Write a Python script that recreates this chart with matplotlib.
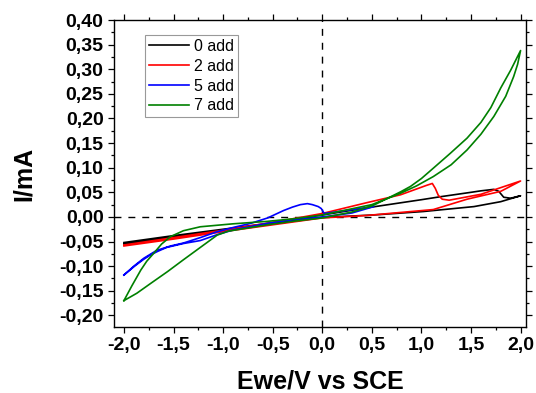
import numpy as np
import matplotlib
matplotlib.use("Agg")
import matplotlib.pyplot as plt
from matplotlib.ticker import MultipleLocator, FuncFormatter

plt.rcParams['font.family'] = ['Liberation Sans', 'DejaVu Sans']

# cyclic voltammograms (V vs SCE, mA)
black_v = [-2.0, -1.5, -1.0, -0.5, 0.0, 0.5, 1.0, 1.19, 1.5, 1.6, 1.73, 1.78, 1.83, 1.9, 2.0,
           1.8, 1.53, 1.02, 0.52, 0.0, -0.5, -1.0, -1.5, -2.0]
black_i = [-0.052, -0.038, -0.025, -0.012, 0.004, 0.020, 0.035, 0.041, 0.050, 0.053, 0.056, 0.052, 0.040, 0.038, 0.043,
           0.031, 0.021, 0.011, 0.004, -0.001, -0.014, -0.027, -0.041, -0.055]

red_v = [-2.0, -1.5, -1.0, -0.5, 0.0, 0.45, 0.79, 1.05, 1.11, 1.14, 1.17, 1.21, 1.28, 1.6, 2.0,
         1.8, 1.46, 1.12, 0.45, 0.0, -0.5, -1.0, -1.5, -2.0]
red_i = [-0.057, -0.042, -0.027, -0.011, 0.007, 0.029, 0.045, 0.064, 0.068, 0.058, 0.044, 0.036, 0.034, 0.046, 0.073,
         0.052, 0.036, 0.015, 0.003, -0.002, -0.016, -0.030, -0.045, -0.059]

blue_v = [-2.0, -1.90, -1.80, -1.67, -1.53, -1.40, -1.23, -1.06, -0.89, -0.72, -0.55, -0.39, -0.30, -0.22, -0.15,
          -0.10, -0.04, -0.01, 0.02, 0.2, 0.52,
          0.3, 0.0, -0.3, -0.555, -0.89, -1.06, -1.23, -1.40, -1.57, -1.66, -1.73, -1.80, -1.88, -2.0]
blue_i = [-0.118, -0.100, -0.084, -0.068, -0.059, -0.053, -0.042, -0.030, -0.021, -0.013, -0.002, 0.013, 0.020, 0.025, 0.027,
          0.025, 0.021, 0.017, 0.007, 0.012, 0.021,
          0.008, 0.000, -0.006, -0.013, -0.026, -0.036, -0.048, -0.054, -0.062, -0.070, -0.077, -0.086, -0.098, -0.118]

green_v = [-2.0, -1.87, -1.73, -1.56, -1.40, -1.23, -1.06, -0.95, -0.80, -0.555, -0.30, 0.0, 0.30, 0.50, 0.79,
           0.89, 1.0, 1.12, 1.29, 1.46, 1.60, 1.70, 1.80, 1.90, 2.0,
           1.97, 1.93, 1.85, 1.73, 1.60, 1.46, 1.30, 1.12, 0.95, 0.79, 0.5, 0.0, -0.3, -0.555, -0.9, -1.23, -1.40, -1.53,
           -1.62, -1.70, -1.77, -1.83, -1.92, -2.0]
green_i = [-0.170, -0.155, -0.135, -0.111, -0.087, -0.062, -0.037, -0.029, -0.024, -0.016, -0.009, -0.002, 0.010, 0.022, 0.051,
           0.062, 0.078, 0.099, 0.129, 0.160, 0.192, 0.222, 0.262, 0.298, 0.338,
           0.310, 0.285, 0.245, 0.204, 0.168, 0.136, 0.106, 0.082, 0.063, 0.048, 0.025, 0.004, -0.004, -0.009, -0.014, -0.020,
           -0.028, -0.040, -0.055, -0.074, -0.090, -0.108, -0.140, -0.170]

labels = ["0 add", "2 add", "5 add", "7 add"]
colors = ["#000000", "#ff0000", "#0000ff", "#008000"]

fig = plt.figure(figsize=(5.36, 3.93), dpi=100)
ax = fig.add_axes([0.2127, 0.1679, 0.7687, 0.7812])

for v, i, lab, c in zip([black_v, red_v, blue_v, green_v],
                        [black_i, red_i, blue_i, green_i], labels, colors):
    ax.plot(v, i, color=c, lw=1.2, label=lab)

ax.axhline(0, color='k', lw=1.0, ls=(0, (5, 5)), zorder=0)
ax.axvline(0, color='k', lw=1.0, ls=(0, (5, 5)), zorder=0)

ax.set_xlim(-2.1, 2.055)
ax.set_ylim(-0.2236, 0.40)

ax.xaxis.set_major_locator(MultipleLocator(0.5))
ax.xaxis.set_minor_locator(MultipleLocator(0.25))
ax.yaxis.set_major_locator(MultipleLocator(0.05))
ax.yaxis.set_minor_locator(MultipleLocator(0.025))
ax.xaxis.set_major_formatter(FuncFormatter(lambda x, p: f"{x + 0.0:.1f}".replace('.', ',').replace('-0,0', '0,0')))
ax.yaxis.set_major_formatter(FuncFormatter(lambda y, p: f"{y + 0.0:.2f}".replace('.', ',').replace('-0,00', '0,00')))

ax.tick_params(which='both', direction='out', top=True, right=True, width=0.9)
ax.tick_params(which='major', length=4.5, labelsize=14, pad=3)
ax.tick_params(which='minor', length=2.5)
for lab in ax.get_xticklabels() + ax.get_yticklabels():
    lab.set_fontweight('bold')
for s in ax.spines.values():
    s.set_linewidth(1.0)

ax.set_xlabel("Ewe/V vs SCE", fontsize=18, fontweight='bold')
ax.set_ylabel("I/mA", fontsize=18, fontweight='bold')
ax.xaxis.set_label_coords(0.5, -0.138)
ax.yaxis.set_label_coords(-0.19, 0.5)

leg = ax.legend(loc='upper left', bbox_to_anchor=(0.075, 0.951), borderaxespad=0,
                fancybox=False, edgecolor='#808080', fontsize=11.5, handlelength=2.5,
                handletextpad=0.3, labelspacing=0.3, borderpad=0.25)
leg.get_frame().set_linewidth(0.8)

fig.savefig("out.png", dpi=100)
